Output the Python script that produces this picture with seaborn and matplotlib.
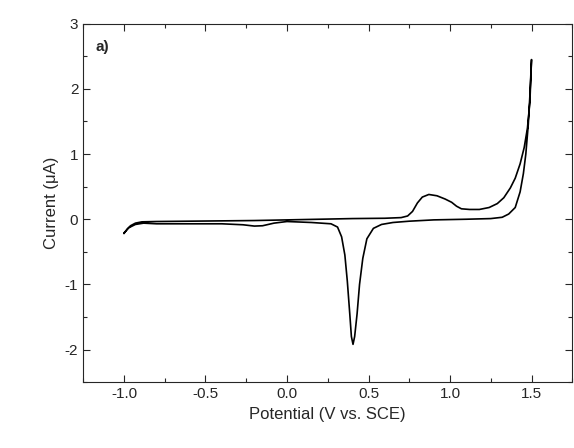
import matplotlib
matplotlib.use("Agg")
import matplotlib.pyplot as plt
import seaborn as sns
from matplotlib.ticker import MultipleLocator

# forward scan (-1.0 -> 1.5 V)
fwd_potential = [-1.00, -0.98, -0.96, -0.93, -0.89, -0.80, -0.60, -0.40, -0.20, 0.00,
                 0.20, 0.40, 0.60, 0.70, 0.74, 0.77, 0.80, 0.83, 0.87, 0.92,
                 0.97, 1.01, 1.04, 1.07, 1.12, 1.18, 1.24, 1.29, 1.33, 1.37,
                 1.40, 1.43, 1.455, 1.475, 1.49, 1.50]
fwd_current = [-0.22, -0.15, -0.10, -0.06, -0.04, -0.035, -0.03, -0.025, -0.02, -0.01,
               0.00, 0.01, 0.015, 0.025, 0.05, 0.12, 0.25, 0.34, 0.38, 0.36,
               0.31, 0.26, 0.20, 0.16, 0.15, 0.15, 0.18, 0.24, 0.33, 0.48,
               0.63, 0.85, 1.10, 1.40, 1.80, 2.45]

# reverse scan (1.5 -> -1.0 V)
rev_potential = [1.49, 1.48, 1.465, 1.45, 1.43, 1.40, 1.36, 1.32, 1.25, 1.10,
                 0.90, 0.75, 0.65, 0.58, 0.53, 0.49, 0.465, 0.445, 0.43, 0.415,
                 0.405, 0.395, 0.385, 0.37, 0.355, 0.335, 0.31, 0.27, 0.15, 0.00,
                 -0.08, -0.15, -0.20, -0.27, -0.40, -0.60, -0.80, -0.88, -0.93, -0.97,
                 -1.00]
rev_current = [1.90, 1.45, 1.00, 0.70, 0.42, 0.18, 0.08, 0.03, 0.01, 0.00,
               -0.01, -0.03, -0.05, -0.08, -0.14, -0.30, -0.60, -1.00, -1.45, -1.80,
               -1.92, -1.80, -1.45, -0.95, -0.55, -0.27, -0.12, -0.07, -0.05, -0.035,
               -0.06, -0.10, -0.105, -0.085, -0.07, -0.07, -0.07, -0.06, -0.08, -0.13,
               -0.21]

potential = fwd_potential + rev_potential
current = fwd_current + rev_current

sns.set_style("ticks")
plt.rcParams['font.family'] = ['Liberation Sans', 'DejaVu Sans']

fig = plt.figure(figsize=(5.74, 4.48), dpi=100)
ax = fig.add_axes([0.145, 0.147, 0.852, 0.8])

sns.lineplot(x=potential, y=current, sort=False, estimator=None,
             color='black', linewidth=1.2, ax=ax)

ax.set_xlim(-1.25, 1.75)
ax.set_ylim(-2.5, 3)
ax.xaxis.set_minor_locator(MultipleLocator(0.25))
ax.yaxis.set_minor_locator(MultipleLocator(0.5))
ax.set_xticks([-1.0, -0.5, 0.0, 0.5, 1.0, 1.5])
ax.set_xticklabels(['-1.0', '-0.5', '0.0', '0.5', '1.0', '1.5'])
ax.set_yticks([-2, -1, 0, 1, 2, 3])
ax.set_yticklabels(['-2', '-1', '0', '1', '2', '3'])
ax.tick_params(which='both', direction='in', top=True, right=True, labelsize=11)
ax.tick_params(which='major', length=5, width=0.8)
ax.tick_params(which='minor', length=3, width=0.8)
for s in ax.spines.values():
    s.set_linewidth(0.8)

ax.set_xlabel('Potential (V vs. SCE)', fontsize=12)
ax.set_ylabel('Current (μA)', fontsize=12)
ax.text(0.025, 0.955, 'a)', transform=ax.transAxes, fontsize=11, fontweight='bold',
        va='top', ha='left')

fig.savefig('out.png', dpi=100)
